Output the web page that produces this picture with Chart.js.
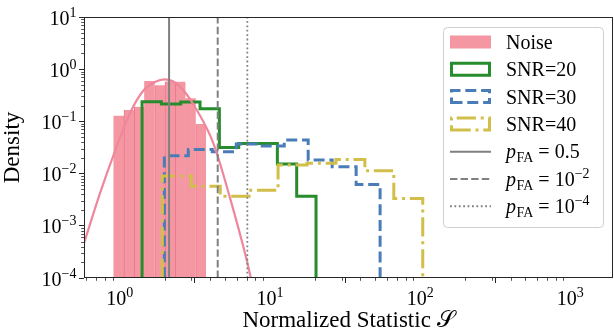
<!DOCTYPE html>
<html><head><meta charset="utf-8">
<script src="https://cdn.jsdelivr.net/npm/chart.js@4/dist/chart.umd.min.js"></script>
<style>html,body{margin:0;padding:0;background:#fff;}canvas{display:block;}</style>
</head><body>
<canvas id="c" width="614" height="333"></canvas>
<script>
// ---------- data ----------
const yMin = 1e-4, yMax = 10;
const xMin = 0.578, xMax = 1924;
const xTickValues = [1, 10, 100, 1000];
const xTickLabels = ['10^0', '10^1', '10^2', '10^3'];
const yTickValues = [1e-4, 1e-3, 1e-2, 1e-1, 1, 10];
const yTickLabels = ['10^−4', '10^−3', '10^−2', '10^−1', '10^0', '10^1'];

const noiseCenters = [0.987, 1.154, 1.351, 1.581, 1.851, 2.166, 2.535, 2.966, 3.472];
const noiseDensity = [0.127, 0.166, 0.191, 0.596, 0.49, 0.583, 0.578, 0.278, 0.089];

const curveX = [0.578, 0.739, 0.935, 1.171, 1.429, 1.718, 2.003, 2.52, 3.256, 4.201, 5.426, 7.009, 7.484];
const curveY = [4.63e-4, 4.22e-3, 0.0283, 0.145, 0.383, 0.571, 0.637, 0.464, 0.1655, 0.038, 3.39e-3, 2.19e-4, 9.7e-5];

const snr20Edges = [1.408, 1.893, 2.546, 3.424, 4.606, 6.194, 8.332, 11.205, 15.07, 20.27];
const snr20Density = [0.239, 0.216, 0.236, 0.175, 0.0316, 0.0377, 0.0377, 0.0152, 0.0037];
const snr30Edges = [1.982, 2.861, 4.133, 5.968, 8.618, 12.45, 17.97, 25.96, 37.49, 54.13];
const snr30Density = [0.0220, 0.0291, 0.0262, 0.0368, 0.0337, 0.0440, 0.0182, 0.0135, 0.0062];
const snr40Edges = [1.921, 2.994, 4.666, 7.271, 11.328, 17.65, 27.51, 42.86, 66.79, 104.1];
const snr40Density = [0.00895, 0.00575, 0.0037, 0.00482, 0.0146, 0.0157, 0.0187, 0.0113, 0.00334];

const thresholds = [2.13, 4.49, 7.07];
const legendLabels = ['Noise', 'SNR=20', 'SNR=30', 'SNR=40'];
const pfaLabels = ['0.5', '10^−2', '10^−4'];

// ---------- styles ----------
const FONT = "'Liberation Serif', 'DejaVu Serif', serif";
const pink = '#f497a3', pinkEdge = '#ec7a8c', curveCol = '#f0869a';
const green = '#268c2c', blue = '#4a7db8', yellow = '#d1bf4a', gray = '#808080';
const frameCol = '#262626';
const styleLines = [[], [7.4, 3.2], [1.8, 2.6]];

function stepPoints(edges, dens) {
  const pts = [{x: edges[0], y: yMin}];
  dens.forEach((d, i) => pts.push({x: edges[i], y: d}));
  pts.push({x: edges[edges.length - 1], y: dens[dens.length - 1]});
  pts.push({x: edges[edges.length - 1], y: yMin});
  return pts;
}

function drawPowerText(ctx, str, x, y, align, size, supSize, raise) {
  const [b, e] = str.split('^');
  ctx.font = size + 'px ' + FONT;
  const wb = ctx.measureText(b).width;
  let we = 0;
  if (e !== undefined) { ctx.font = supSize + 'px ' + FONT; we = ctx.measureText(e).width; }
  const total = wb + we;
  let sx = x;
  if (align === 'center') sx = x - total / 2;
  else if (align === 'right') sx = x - total;
  ctx.textAlign = 'left';
  ctx.textBaseline = 'alphabetic';
  ctx.font = size + 'px ' + FONT;
  ctx.fillText(b, sx, y);
  if (e !== undefined) { ctx.font = supSize + 'px ' + FONT; ctx.fillText(e, sx + wb, y - raise); }
  return total;
}

const decor = {
  id: 'decor',
  afterDraw(chart) {
    const ctx = chart.ctx, a = chart.chartArea;
    const xs = chart.scales.x, ys = chart.scales.y;
    ctx.save();
    // frame
    ctx.strokeStyle = frameCol; ctx.lineWidth = 1;
    ctx.strokeRect(Math.round(a.left) + 0.5, Math.round(a.top) + 0.5,
      Math.round(a.right) - Math.round(a.left) - 1, Math.round(a.bottom) - Math.round(a.top) - 1);
    // minor ticks
    ctx.lineWidth = 0.8;
    ctx.beginPath();
    for (let d = -1; d <= 3; d++) for (let k = 2; k <= 9; k++) {
      const v = k * Math.pow(10, d);
      if (v <= xMin || v >= xMax) continue;
      const px = Math.round(xs.getPixelForValue(v)) + 0.5;
      ctx.moveTo(px, a.bottom); ctx.lineTo(px, a.bottom + 2.8);
    }
    for (let d = -4; d <= 0; d++) for (let k = 2; k <= 9; k++) {
      const v = k * Math.pow(10, d);
      const py = Math.round(ys.getPixelForValue(v)) + 0.5;
      ctx.moveTo(a.left, py); ctx.lineTo(a.left - 2.8, py);
    }
    ctx.stroke();
    // tick labels
    ctx.fillStyle = '#000';
    xTickValues.forEach((v, i) => {
      drawPowerText(ctx, xTickLabels[i], xs.getPixelForValue(v), 305, 'center', 20, 14, 8.5);
    });
    yTickValues.forEach((v, i) => {
      drawPowerText(ctx, yTickLabels[i], 76.5, ys.getPixelForValue(v) + 7.5, 'right', 20, 14, 8);
    });
    // legend
    const lx = 443.5, ly = 27.5, lw = 160, lh = 200;
    ctx.beginPath();
    ctx.roundRect(lx, ly, lw, lh, 4);
    ctx.fillStyle = 'rgba(255,255,255,0.85)'; ctx.fill();
    ctx.strokeStyle = '#cfcfcf'; ctx.lineWidth = 1; ctx.stroke();
    const hx0 = 450, hx1 = 491, tx = 506;
    const base = i => 49 + 27.3 * i;
    // Noise patch
    ctx.fillStyle = pink;
    ctx.fillRect(hx0, base(0) - 13.5, hx1 - hx0, 13);
    const snrStyles = [[green, []], [blue, [11, 4.8]], [yellow, [19.2, 4.8, 3, 4.8]]];
    snrStyles.forEach(([col, dash], j) => {
      const c = base(j + 1) - 7;
      ctx.strokeStyle = col; ctx.lineWidth = 3; ctx.setLineDash(dash);
      ctx.beginPath();
      ctx.moveTo(hx0 + 1.5, c + 6); ctx.lineTo(hx1 - 1.5, c + 6); ctx.lineTo(hx1 - 1.5, c - 6);
      ctx.lineTo(hx0 + 1.5, c - 6); ctx.closePath(); ctx.stroke();
    });
    ctx.setLineDash([]);
    ctx.fillStyle = '#000'; ctx.textAlign = 'left'; ctx.textBaseline = 'alphabetic';
    ctx.font = '20px ' + FONT;
    legendLabels.forEach((t, i) => ctx.fillText(t, tx, base(i)));
    pfaLabels.forEach((t, j) => {
      const i = j + 4, b = base(i), c = b - 6.5;
      ctx.strokeStyle = gray; ctx.lineWidth = 2; ctx.setLineDash(styleLines[j]);
      ctx.beginPath(); ctx.moveTo(hx0, c); ctx.lineTo(hx1, c); ctx.stroke();
      ctx.setLineDash([]);
      ctx.fillStyle = '#000';
      ctx.font = 'italic 20px ' + FONT;
      let x = tx; ctx.fillText('p', x, b); x += ctx.measureText('p').width + 0.5;
      ctx.font = '14px ' + FONT; ctx.fillText('FA', x, b + 4); x += ctx.measureText('FA').width;
      ctx.font = '20px ' + FONT; ctx.fillText(' = ', x, b); x += ctx.measureText(' = ').width;
      drawPowerText(ctx, t, x, b, 'left', 20, 14, 8);
    });
    ctx.restore();
  }
};

const datasets = [
  {label: 'thr0', data: [{x: thresholds[0], y: yMin}, {x: thresholds[0], y: yMax}], borderColor: gray, borderWidth: 2, borderDash: styleLines[0], order: 1},
  {label: 'thr1', data: [{x: thresholds[1], y: yMin}, {x: thresholds[1], y: yMax}], borderColor: gray, borderWidth: 2, borderDash: styleLines[1], order: 1},
  {label: 'thr2', data: [{x: thresholds[2], y: yMin}, {x: thresholds[2], y: yMax}], borderColor: gray, borderWidth: 1.8, borderDash: styleLines[2], order: 1},
  {label: 'fit', data: curveX.map((x, i) => ({x, y: curveY[i]})), borderColor: curveCol, borderWidth: 2.2, cubicInterpolationMode: 'monotone', order: 2},
  {label: 'SNR=40', data: stepPoints(snr40Edges, snr40Density), borderColor: yellow, borderWidth: 3, borderDash: [19.2, 4.8, 3, 4.8], stepped: 'before', order: 3},
  {label: 'SNR=30', data: stepPoints(snr30Edges, snr30Density), borderColor: blue, borderWidth: 3, borderDash: [11, 4.8], stepped: 'before', order: 4},
  {label: 'SNR=20', data: stepPoints(snr20Edges, snr20Density), borderColor: green, borderWidth: 3, stepped: 'before', order: 5},
  {type: 'bar', label: 'Noise', data: noiseCenters.map((x, i) => ({x, y: noiseDensity[i]})),
   backgroundColor: pink, borderColor: pinkEdge,
   borderWidth: c => c.dataIndex === 0 ? 0 : {left: 1, right: 0, top: 0, bottom: 0},
   borderSkipped: false, barPercentage: 1, categoryPercentage: 1, grouped: false, order: 10}
];

new Chart(document.getElementById('c'), {
  type: 'line',
  data: {datasets},
  options: {
    responsive: false, animation: false, devicePixelRatio: 1,
    layout: {padding: {left: 0, right: 1, top: 17, bottom: 0}},
    elements: {point: {radius: 0}, line: {fill: false, tension: 0}},
    plugins: {legend: {display: false}, tooltip: {enabled: false}},
    scales: {
      x: {
        type: 'logarithmic', min: xMin, max: xMax, offset: false,
        afterBuildTicks: s => { s.ticks = xTickValues.map(v => ({value: v, major: true})); },
        afterFit: s => { s.height = 55; },
        ticks: {display: false},
        grid: {drawOnChartArea: false, drawTicks: true, tickLength: 5, tickColor: frameCol, tickWidth: 1},
        border: {display: false},
        title: {display: true, text: 'Normalized Statistic 𝒮', color: '#000',
                font: {family: FONT, size: 23, lineHeight: 1}, padding: {top: 0, bottom: 0.3}}
      },
      y: {
        type: 'logarithmic', min: yMin, max: yMax,
        afterBuildTicks: s => { s.ticks = yTickValues.map(v => ({value: v, major: true})); },
        afterFit: s => { s.width = 84; },
        ticks: {display: false},
        grid: {drawOnChartArea: false, drawTicks: true, tickLength: 5, tickColor: frameCol, tickWidth: 1},
        border: {display: false},
        title: {display: true, text: 'Density', color: '#000',
                font: {family: FONT, size: 23, lineHeight: 1}, padding: {top: 1.7, bottom: 0}}
      }
    }
  },
  plugins: [decor]
});
</script>
</body></html>
